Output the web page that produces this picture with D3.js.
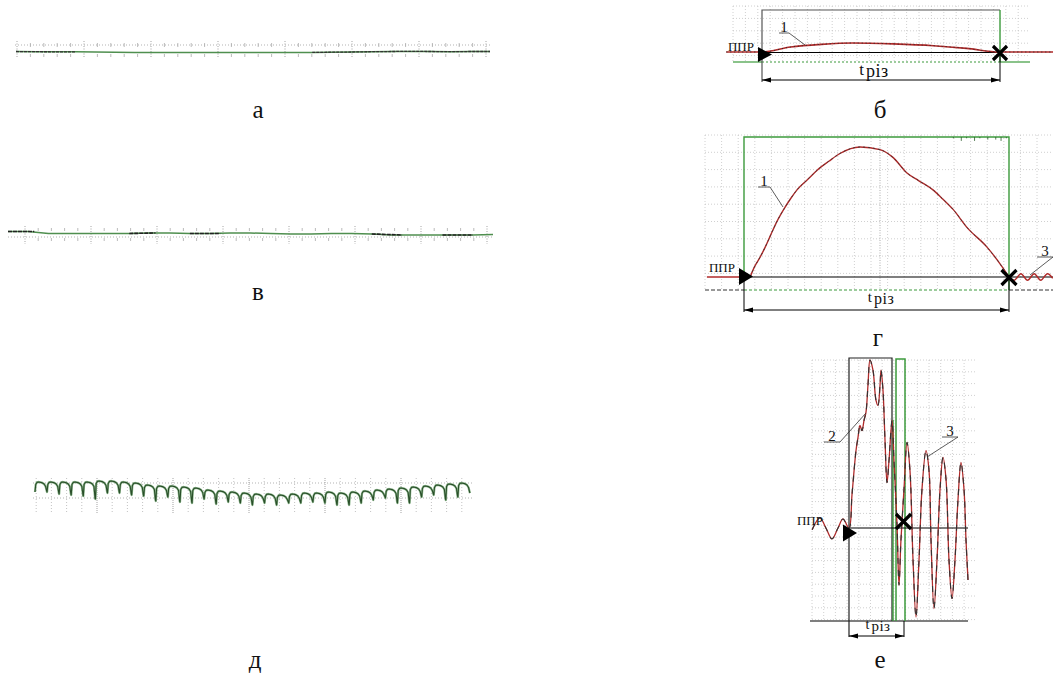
<!DOCTYPE html>
<html>
<head>
<meta charset="utf-8">
<script src="https://cdn.jsdelivr.net/npm/d3@7"></script>
<style>
  body { margin: 0; background: #fff; }
  text { font-family: "Liberation Serif", "DejaVu Serif", serif; fill: #111; }
</style>
</head>
<body>
<div id="chart"></div>
<script>
// ---- data ----
// а, в : near-flat traces (signal, arbitrary units, one value per step)
var traceA = [0.5, 0.3, 0.2, 0.2, 0, -0.3, -0.5, -0.5, -0.4, -0.5, -0.6, -0.4, -0.4, -0.5, -0.6, -0.4, -0.2, 0, 0.3, 0.5, 0.6, 0.5, 0.3, 0.5, 0.5];
var darkA = [[0, 3], [15, 24]];
var traceB = [2.5, 2.5, 0.5, 0.5, 0.5, 0.5, 0.5, 1, 1, 0.5, 0.5, 1, 1, 0.5, 0, 0, 0.5, 0.5, 0, -1, -1, -1, -1, -1, -0.5];
var darkB = [[0, 1.3], [6, 7.3], [9, 10.5], [18, 19.5], [21.5, 23]];

// б : current during cutting, time in % of t_різ, value in % of peak
var curveB = [[-15, 0], [0, 0], [12, 55], [25, 85], [38, 100], [55, 90], [72, 70], [86, 40], [100, 0], [113, 0], [126, 0]];

// г
var leadG = [[-14, 0], [0, 0], [2.3, 0]];
var curveG = [[2.3, 0], [4, 8], [6, 15], [8, 23], [10, 32], [12.5, 43], [15, 52], [17.5, 60], [20, 67], [24, 75], [27.5, 82], [32, 89], [36.2, 95], [43.8, 100], [51.3, 98], [56.2, 92], [61.5, 80], [66, 74], [71.3, 67], [75, 60], [78.9, 52], [84.2, 38], [91.7, 23], [97.7, 7], [100, 0]];
var ringG = [[100, 0], [102, -2.5], [104.5, 2.5], [107, -2.5], [109.5, 2.5], [112, -2.5], [114.5, 2.5], [116.5, -1]];
var glitchG = [79, 82, 84, 87, 89, 92, 95, 97, 99];
var glitchDepth = [1, 3, 1, 3, 1, 2, 2, 3, 1];

// д : one entry per cycle, level of top and of the dip that ends the cycle
var dTop = [23, 23, 23, 23, 23, 24, 24, 23, 22, 20, 19, 19, 18, 17, 15, 14, 13, 12, 11, 11, 10, 11, 12, 12, 13, 12, 13, 14, 15, 16, 17, 18, 19, 20, 21, 22];
var dDip = [13, 11, 10, 9, 6, 12, 12, 10, 9, 4, 8, 3, 2, 6, 1, 3, 2, 0, 2, 0, 2, 2, 3, 2, 0, 0, 2, 5, 7, 2, 2, 8, 10, 5, 8, 12];
var dStart = 13;

// е
var curveE = [[-67, -1], [-53, 6], [-42, 0], [-31, -6.5], [-20, 0], [-11, 5.4], [0, 0], [5.5, 20], [12.7, 46], [16.4, 54], [20, 61], [23.6, 58], [27.3, 64], [30.9, 69], [34.5, 85], [38.2, 100], [43.6, 94], [49.1, 76], [52.7, 73], [56.4, 85], [58.2, 94], [61.8, 82], [65.5, 52], [69.1, 27], [72.7, 40], [78.2, 64], [81.8, 40], [87.3, 2], [90.9, -34], [94.5, -7], [100, 23], [105.5, 51], [110.9, 34], [116.4, -19], [121.8, -53], [127.3, -19], [132.7, 23], [140, 46], [145.5, 34], [149.1, -7], [154.5, -48], [160, -19], [165.5, 23], [170.9, 42], [176.4, 29], [181.8, -19], [187.3, -42], [192.7, -19], [198.2, 17], [203.6, 39], [209.1, 23], [212.7, -7], [216.4, -31]];

var panelLabels = ["а", "б", "в", "г", "д", "е"];

// ---- drawing ----
var svg = d3.select("#chart").append("svg")
    .attr("width", 1053)
    .attr("height", 673)
    .attr("font-family", "Liberation Serif, DejaVu Serif, serif");

var RED = "#b02a2a", GREEN = "#3c9a3c", DARKGREEN = "#2a4f2a";

function hline(x0, x1, y, col, w, dash) {
    return svg.append("line").attr("x1", x0).attr("x2", x1).attr("y1", y).attr("y2", y)
        .attr("stroke", col).attr("stroke-width", w || 1).attr("stroke-dasharray", dash || null);
}
function vline(x, y0, y1, col, w, dash) {
    return svg.append("line").attr("x1", x).attr("x2", x).attr("y1", y0).attr("y2", y1)
        .attr("stroke", col).attr("stroke-width", w || 1).attr("stroke-dasharray", dash || null);
}
function grid(x0, x1, dx, y0, y1, dy) {
    for (var x = x0; x <= x1 + 0.1; x += dx) vline(x, y0, y1, "#c4c4c4", 0.8, "1,2");
    for (var y = y0; y <= y1 + 0.1; y += dy) hline(x0, x1, y, "#c4c4c4", 0.8, "1,2");
}
function triangle(xTip, yc, h) {
    svg.append("path")
        .attr("d", "M" + (xTip - 14) + "," + (yc - h) + "L" + xTip + "," + yc + "L" + (xTip - 14) + "," + (yc + h) + "Z")
        .attr("fill", "#000");
}
function cross(cx, cy, s) {
    svg.append("path")
        .attr("d", "M" + (cx - s) + "," + (cy - s) + "L" + (cx + s) + "," + (cy + s) + "M" + (cx - s) + "," + (cy + s) + "L" + (cx + s) + "," + (cy - s))
        .attr("stroke", "#000").attr("stroke-width", 3.2);
}
function dimension(x0, x1, y) {
    hline(x0, x1, y, "#000", 1);
    svg.append("path").attr("d", "M" + x0 + "," + y + "l9,-2.5v5z").attr("fill", "#000");
    svg.append("path").attr("d", "M" + x1 + "," + y + "l-9,-2.5v5z").attr("fill", "#000");
}
function tLabel(xc, y, size) {
    var t = svg.append("text").attr("x", xc).attr("y", y).attr("text-anchor", "middle")
        .style("font-size", size + "px");
    t.append("tspan").text("t").style("font-size", (size - 1) + "px");
    t.append("tspan").attr("dy", 2).attr("dx", 2).text("різ").style("letter-spacing", "0.5px");
}
function callout(txt, tx, ty, ux0, ux1, lx, ly) {
    svg.append("text").attr("x", (ux0 + ux1) / 2).attr("y", ty).attr("text-anchor", "middle")
        .style("font-size", "15px").text(txt);
    svg.append("path").attr("d", "M" + ux0 + "," + (ty + 1) + "H" + ux1 + "L" + lx + "," + ly)
        .attr("fill", "none").attr("stroke", "#333").attr("stroke-width", 0.8);
}
function pprText(xEnd, y) {
    svg.append("text").attr("x", xEnd).attr("y", y).attr("text-anchor", "end")
        .style("font-size", "13px").text("ППР");
}
function ruler(x0, x1, yDot, major0, majorStep, yTop, yBot, minTop, minBot) {
    hline(x0, x1, yDot, "#aaa", 0.9, "1,2");
    for (var m = major0; m <= x1; m += majorStep) {
        vline(m, yTop, yBot, "#999", 0.9, "1,1.5");
        for (var k = 1; k < 5; k++) {
            var xm = m + k * majorStep / 5;
            if (xm > x1) break;
            vline(xm, minTop[0], minTop[1], "#aaa", 0.8);
            vline(xm, minBot[0], minBot[1], "#aaa", 0.8);
        }
    }
}

// ---------- а ----------
var xA = d3.scaleLinear().domain([0, traceA.length - 1]).range([16, 490]);
var yA = d3.scaleLinear().domain([-3, 3]).range([55, 49]);
ruler(15, 490, 45, 17, 67, 41, 58, [43, 47], [54, 57]);
var lineA = d3.line().x(function (d, i) { return xA(i); }).y(function (d) { return yA(d); });
svg.append("path").datum(traceA).attr("d", lineA).attr("fill", "none").attr("stroke", "#4f8f4f").attr("stroke-width", 1.5);
darkA.forEach(function (r) {
    var seg = d3.range(r[0], r[1] + 1);
    svg.append("path").datum(seg)
        .attr("d", d3.line().x(function (i) { return xA(i); }).y(function (i) { return yA(traceA[i]); }))
        .attr("fill", "none").attr("stroke", "#333").attr("stroke-width", 1.3).attr("stroke-dasharray", "3,1");
});

// ---------- в ----------
var xB = d3.scaleLinear().domain([0, traceB.length - 1]).range([8, 493]);
var yB = d3.scaleLinear().domain([-3, 3]).range([237, 231]);
ruler(8, 493, 237, 25, 66, 226, 244, [228, 231], [238, 241]);
svg.append("path").datum(traceB)
    .attr("d", d3.line().x(function (d, i) { return xB(i); }).y(function (d) { return yB(d); }))
    .attr("fill", "none").attr("stroke", "#4f8f4f").attr("stroke-width", 1.5);
darkB.forEach(function (r) {
    svg.append("line").attr("x1", xB(r[0])).attr("x2", xB(r[1]))
        .attr("y1", yB(traceB[Math.floor(r[0])])).attr("y2", yB(traceB[Math.floor(r[1])]))
        .attr("stroke", "#222").attr("stroke-width", 1.6).attr("stroke-dasharray", "4,1");
});

// ---------- д ----------
var xD = d3.scaleLinear().domain([0, dTop.length]).range([35, 470]);
var yD = d3.scaleLinear().domain([0, 25]).range([505, 480]);
hline(33, 472, 483, "#aaa", 0.9, "1,2");
hline(33, 472, 498, "#aaa", 0.9, "1,2");
for (var xm = 21; xm <= 472; xm += 15.2) {
    var isMajor = Math.round((xm - 21) / 15.2) % 5 === 0;
    if (xm < 33) continue;
    vline(xm, 478, 513, isMajor ? "#999" : "#bbb", 0.9, isMajor ? "1,1" : "1,2");
}
// each cycle: steep rise, rounded top, sloping fall, narrow dip
var ptsD = [[0, dStart]];
dTop.forEach(function (top, i) {
    ptsD.push([i + 0.06, top - 2.5]);
    ptsD.push([i + 0.16, top - 0.4]);
    ptsD.push([i + 0.32, top]);
    ptsD.push([i + 0.55, top - 0.6]);
    ptsD.push([i + 0.75, top - 2]);
    ptsD.push([i + 0.88, top - 4.5]);
    ptsD.push([i + 0.97, dDip[i] + 1]);
    ptsD.push([i + 1, dDip[i]]);
});
var lineD = d3.line().x(function (d) { return xD(d[0]); }).y(function (d) { return yD(d[1]); });
svg.append("path").datum(ptsD).attr("d", lineD).attr("fill", "none").attr("stroke", "#8fb88f").attr("stroke-width", 2.3).attr("stroke-linejoin", "round");
svg.append("path").datum(ptsD).attr("d", lineD).attr("fill", "none").attr("stroke", DARKGREEN).attr("stroke-width", 1.1).attr("stroke-linejoin", "round");

// ---------- б ----------
var xBb = d3.scaleLinear().domain([0, 100]).range([762, 1000]);
var yBb = d3.scaleLinear().domain([0, 100]).range([52, 43]);
grid(733, 1030, 12.4, 6, 62, 12.4);
hline(733, 762, 62, GREEN, 1.2);
hline(762, 1000, 62, GREEN, 1.2, "2,2");
hline(1000, 1030, 62, GREEN, 1.2);
svg.append("path").attr("d", "M762,82V10H1000").attr("fill", "none").attr("stroke", "#555").attr("stroke-width", 1.2);
vline(1000, 10, 62, GREEN, 1.4);
vline(1000, 52, 82, "#000", 1);
hline(762, 1000, 52.5, "#000", 1.2);
var lineBb = d3.line().x(function (d) { return xBb(d[0]); }).y(function (d) { return yBb(d[1]); }).curve(d3.curveMonotoneX);
svg.append("path").datum(curveB).attr("d", lineBb).attr("fill", "none").attr("stroke", RED).attr("stroke-width", 1.6);
svg.append("path").datum(curveB).attr("d", lineBb).attr("fill", "none").attr("stroke", "#222").attr("stroke-width", 0.9).attr("stroke-dasharray", "1,3");
triangle(772, 54.5, 7.5);
cross(1000, 53, 7);
dimension(762, 1000, 80);
tLabel(874, 75, 18);
callout("1", 784, 32, 779, 789, 805, 45);
pprText(754, 51);

// ---------- г ----------
var xG = d3.scaleLinear().domain([0, 100]).range([744, 1009]);
var yG = d3.scaleLinear().domain([0, 100]).range([277, 147]);
grid(705, 1053, 16.6, 135, 290, 17.3);
vline(880, 135, 290, "#999", 0.8, "1,1.5");
hline(705, 744, 290, "#333", 1, "4,2");
hline(744, 1009, 290, GREEN, 1.2, "3,2");
hline(1009, 1053, 290, "#333", 1, "4,2");
svg.append("path").attr("d", "M744,277V137H1009V290").attr("fill", "none").attr("stroke", GREEN).attr("stroke-width", 1.4);
glitchG.forEach(function (g, i) {
    vline(xG(g), 137, 137 + glitchDepth[i] * 1.3, "#2a5a2a", 0.8);
});
vline(744, 277, 312, "#000", 1);
vline(1009, 277, 312, "#000", 1);
hline(744, 1053, 277, "#000", 1.2);
var lineG = d3.line().x(function (d) { return xG(d[0]); }).y(function (d) { return yG(d[1]); }).curve(d3.curveMonotoneX);
var ringLine = d3.line().x(function (d) { return xG(d[0]); }).y(function (d) { return yG(d[1]); }).curve(d3.curveCatmullRom);
[leadG, curveG].forEach(function (s) {
    svg.append("path").datum(s).attr("d", lineG).attr("fill", "none").attr("stroke", RED).attr("stroke-width", 1.4);
});
svg.append("path").datum(ringG).attr("d", ringLine).attr("fill", "none").attr("stroke", RED).attr("stroke-width", 1.4);
svg.append("path").datum(curveG).attr("d", lineG).attr("fill", "none").attr("stroke", "#333").attr("stroke-width", 0.8).attr("stroke-dasharray", "2,3");
triangle(753, 276.5, 8.5);
cross(1009, 277.5, 7.5);
dimension(744, 1009, 310);
tLabel(881, 302, 16);
callout("1", 764, 186, 758, 770, 783, 207);
callout("3", 1045, 256, 1037, 1053, 1030, 275);
pprText(735, 272);

// ---------- е ----------
var xE = d3.scaleLinear().domain([0, 100]).range([849, 904]);
var yE = d3.scaleLinear().domain([0, 100]).range([528, 360]);
grid(812, 975, 11.7, 360, 620, 11.8);
hline(810, 968, 621, "#000", 1.2);
svg.append("path").attr("d", "M849,637V358H892V621").attr("fill", "none").attr("stroke", "#222").attr("stroke-width", 1.2);
vline(893, 420, 621, GREEN, 1.4);
svg.append("path").attr("d", "M896,621V359H905V621").attr("fill", "none").attr("stroke", GREEN).attr("stroke-width", 1.5);
vline(904, 621, 637, "#000", 1);
hline(849, 968, 528, "#000", 1.2);
var lineE = d3.line().x(function (d) { return xE(d[0]); }).y(function (d) { return yE(d[1]); }).curve(d3.curveCatmullRom);
svg.append("path").datum(curveE).attr("d", lineE).attr("fill", "none").attr("stroke", RED).attr("stroke-width", 1.3);
svg.append("path").datum(curveE).attr("d", lineE).attr("fill", "none").attr("stroke", "#333").attr("stroke-width", 1.1).attr("stroke-dasharray", "6,6");
triangle(857, 533, 8.5);
cross(903.5, 521.5, 7.5);
dimension(849, 904, 636);
tLabel(878, 629, 15);
callout("2", 832, 441, 824, 840, 866, 413);
callout("3", 950, 436, 942, 958, 927, 457);
pprText(823, 525);

// ---------- panel letters ----------
var labelPos = [[258, 118], [880, 118], [258, 300], [878, 346], [255, 668], [880, 668]];
panelLabels.forEach(function (l, i) {
    svg.append("text").attr("x", labelPos[i][0]).attr("y", labelPos[i][1])
        .attr("text-anchor", "middle").style("font-size", "25px").text(l);
});
</script>
</body>
</html>
